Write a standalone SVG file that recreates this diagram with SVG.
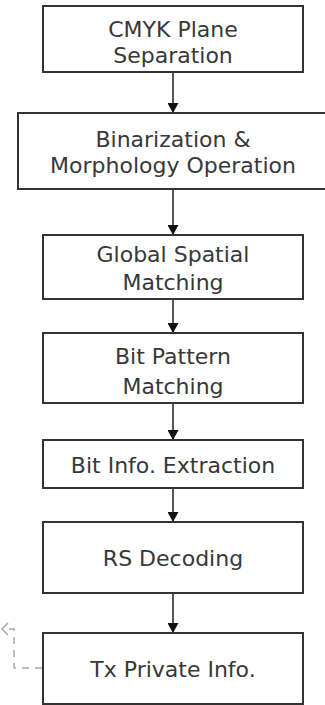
<svg xmlns="http://www.w3.org/2000/svg" width="325" height="705" viewBox="0 0 325 705">
<defs>
<style>
.box{fill:#fff;stroke:#333;stroke-width:2}
.t{font-family:"DejaVu Sans","Open Sans",sans-serif;font-size:22px;fill:#383838;text-anchor:middle}
.c{stroke:#222;stroke-width:1.5;fill:none}
.d{stroke:#aaa;stroke-width:1.5;fill:none;stroke-dasharray:7 6}
</style>
<marker id="ah" markerWidth="10" markerHeight="11" refX="10" refY="5.5" orient="auto" markerUnits="userSpaceOnUse">
<path d="M0,0 L10,5.5 L0,11 Z" fill="#111"/>
</marker>
</defs>
<rect width="325" height="705" fill="#fff"/>
<g id="connectors">
<line class="c" x1="173" y1="72" x2="173" y2="113" marker-end="url(#ah)"/>
<line class="c" x1="173" y1="189" x2="173" y2="235" marker-end="url(#ah)"/>
<line class="c" x1="173" y1="299" x2="173" y2="333" marker-end="url(#ah)"/>
<line class="c" x1="173" y1="403" x2="173" y2="440" marker-end="url(#ah)"/>
<line class="c" x1="173" y1="488" x2="173" y2="522" marker-end="url(#ah)"/>
<line class="c" x1="173" y1="593" x2="173" y2="633" marker-end="url(#ah)"/>
<path class="d" d="M42,668 H14 V629 H2"/>
<path d="M8,623 L2,629 L8,635" stroke="#aaa" stroke-width="1.5" fill="none"/>
</g>
<g id="n1">
<rect class="box" x="43" y="6" width="260" height="66"/>
<text class="t" x="173" y="37">CMYK Plane<tspan x="173" dy="26">Separation</tspan></text>
</g>
<g id="n2">
<rect class="box" x="18" y="113" width="320" height="76"/>
<text class="t" x="173" y="147">Binarization &amp;<tspan x="173" dy="26">Morphology Operation</tspan></text>
</g>
<g id="n3">
<rect class="box" x="43" y="235" width="260" height="64"/>
<text class="t" x="173" y="262">Global Spatial<tspan x="173" dy="28">Matching</tspan></text>
</g>
<g id="n4">
<rect class="box" x="43" y="333" width="260" height="70"/>
<text class="t" x="173" y="364">Bit Pattern<tspan x="173" dy="30">Matching</tspan></text>
</g>
<g id="n5">
<rect class="box" x="43" y="440" width="260" height="48"/>
<text class="t" x="173" y="473">Bit Info. Extraction</text>
</g>
<g id="n6">
<rect class="box" x="43" y="522" width="260" height="71"/>
<text class="t" x="173" y="566">RS Decoding</text>
</g>
<g id="n7">
<rect class="box" x="43" y="633" width="260" height="71"/>
<text class="t" x="173" y="677">Tx Private Info.</text>
</g>
</svg>
